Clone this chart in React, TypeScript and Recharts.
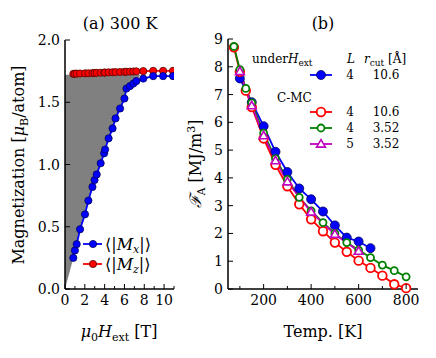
import React from 'react';
import { ComposedChart, Line, Area, XAxis, YAxis } from 'recharts';

// panel (a): magnetisation vs external field at 300 K
const fieldT = [0.84, 1.0, 1.18, 1.52, 2.02, 2.36, 2.77, 2.98, 3.2, 3.6, 3.95, 4.05, 4.4, 4.8, 5.1, 5.56, 6.0, 6.2, 6.56, 6.9, 7.2, 7.9, 8.9, 9.9, 10.9];
const magX = [0.25, 0.31, 0.36, 0.48, 0.6, 0.71, 0.82, 0.875, 0.92, 1.01, 1.09, 1.12, 1.21, 1.29, 1.37, 1.45, 1.53, 1.61, 1.63, 1.65, 1.67, 1.69, 1.71, 1.71, 1.71];
const magZ = [1.728, 1.729, 1.73, 1.731, 1.732, 1.733, 1.734, 1.735, 1.736, 1.737, 1.738, 1.739, 1.74, 1.741, 1.742, 1.743, 1.744, 1.745, 1.746, 1.747, 1.748, 1.75, 1.752, 1.752, 1.752];
const grayTop = 1.72;
const grayEndField = 7.6;

// panel (b): anisotropy energy vs temperature
const tempUnderH = [100, 150, 200, 250, 300, 350, 400, 450, 500, 550, 600, 650];
const faUnderH = [7.58, 6.72, 5.86, 4.94, 4.21, 3.62, 3.23, 2.79, 2.29, 1.85, 1.71, 1.47];
const tempCmc = [75, 100, 125, 150, 200, 250, 300, 350, 400, 450, 500, 550, 600, 650, 700, 750, 800];
const faL4r106 = [8.7, 7.82, 7.14, 6.55, 5.42, 4.47, 3.7, 3.05, 2.51, 2.08, 1.67, 1.34, 1.02, 0.76, 0.48, 0.17, 0.03];
const faL4r352 = [8.73, 7.9, 7.22, 6.7, 5.61, 4.69, 3.95, 3.3, 2.81, 2.39, 2.0, 1.67, 1.4, 1.13, 0.86, 0.66, 0.44];
const tempL5 = [100, 150, 200, 250, 300, 400, 500, 600];
const faL5r352 = [7.83, 6.6, 5.52, 4.62, 3.86, 2.77, 1.97, 1.36];

const aTicksX = [0, 1, 2, 3, 4, 5, 6, 7, 8, 9, 10, 11];
const aMajorX = [0, 2, 4, 6, 8, 10];
const aTicksY = [0, 0.5, 1, 1.5, 2];
const bTicksX = [100, 200, 300, 400, 500, 600, 700, 800];
const bMajorX = [200, 400, 600, 800];
const bTicksY = [0, 1, 2, 3, 4, 5, 6, 7, 8, 9];

const FONT = '"DejaVu Serif", "Liberation Serif", serif';
const TICK_FS = 14;
const LEG_FS = 12;
const LAB_FS = 16;

const magData = fieldT.map((h, i) => ({ h, mx: magX[i], mz: magZ[i] }));
const grayData = [
  { h: 0, g: [0, grayTop] },
  ...fieldT.filter((h) => h <= 7.2).map((h, i) => ({ h, g: [magX[i], grayTop] })),
  { h: grayEndField, g: [grayTop, grayTop] },
];
const underData = tempUnderH.map((t, i) => ({ t, v: faUnderH[i] }));
const red106Data = tempCmc.map((t, i) => ({ t, v: faL4r106[i] }));
const green352Data = tempCmc.map((t, i) => ({ t, v: faL4r352[i] }));
const mag352Data = tempL5.map((t, i) => ({ t, v: faL5r352[i] }));

type Side = 'bottom' | 'top' | 'left' | 'right';

// inward ticks like matplotlib, labels only on the major ones
const makeTick = (side: Side, major: number[] | null, fmt: (v: number) => string) => (props: any) => {
  const { x, y, payload } = props;
  const v = payload.value;
  const isMajor = major ? major.includes(v) : true;
  const len = isMajor ? 5 : 3;
  let line;
  if (side === 'bottom') line = <line x1={x} y1={y} x2={x} y2={y - len} stroke="#000" strokeWidth={1} />;
  else if (side === 'top') line = <line x1={x} y1={y} x2={x} y2={y + len} stroke="#000" strokeWidth={1} />;
  else if (side === 'left') line = <line x1={x} y1={y} x2={x + len} y2={y} stroke="#000" strokeWidth={1} />;
  else line = <line x1={x} y1={y} x2={x - len} y2={y} stroke="#000" strokeWidth={1} />;
  let label = null;
  if (isMajor && side === 'bottom')
    label = <text x={x} y={y + 5} dy="0.75em" textAnchor="middle" fontSize={TICK_FS} fontFamily={FONT} fill="#000">{fmt(v)}</text>;
  if (isMajor && side === 'left')
    label = <text x={x - 5} y={y} dy="0.36em" textAnchor="end" fontSize={TICK_FS} fontFamily={FONT} fill="#000">{fmt(v)}</text>;
  return <g>{line}{label}</g>;
};

const frame = { stroke: '#000', strokeWidth: 1.5 };

const blueDot = (r: number) => ({ r, fill: '#0000ff', stroke: '#00005a', strokeWidth: 0.8 });

const Triangle = (props: any) => {
  const { cx, cy } = props;
  if (cx == null || cy == null) return null;
  const s = 4.4;
  return (
    <polygon
      points={`${cx},${cy - s} ${cx - s},${cy + s * 0.7} ${cx + s},${cy + s * 0.7}`}
      fill="#fff"
      stroke="#bf00bf"
      strokeWidth={1.6}
    />
  );
};

function PanelA() {
  return (
    <ComposedChart width={190} height={358} margin={{ top: 40, right: 16, bottom: 24, left: 20 }}>
      <XAxis xAxisId="top" orientation="top" dataKey="h" type="number" domain={[0, 11]} ticks={aTicksX} interval={0} height={0}
        tickSize={0} tickMargin={0} axisLine={frame} tick={makeTick('top', aMajorX, String)} allowDataOverflow />
      <XAxis dataKey="h" type="number" domain={[0, 11]} ticks={aTicksX} interval={0} height={45}
        tickSize={0} tickMargin={0} axisLine={frame} tick={makeTick('bottom', aMajorX, String)} allowDataOverflow />
      <YAxis type="number" domain={[0, 2]} ticks={aTicksY} interval={0} width={45}
        tickSize={0} tickMargin={0} axisLine={frame} tick={makeTick('left', null, (v) => v.toFixed(1))} />
      <YAxis yAxisId="right" orientation="right" type="number" domain={[0, 2]} ticks={aTicksY} interval={0} width={0}
        tickSize={0} tickMargin={0} axisLine={frame} tick={makeTick('right', null, String)} />
      {/* invisible series so the mirrored frame axes get drawn */}
      <Line xAxisId="top" yAxisId="right" data={magData} dataKey="mx" stroke="none" dot={false} isAnimationActive={false} />
      <Area data={grayData} dataKey="g" type="linear" fill="#808080" fillOpacity={1} stroke="none" isAnimationActive={false} />
      <Line data={magData} dataKey="mz" type="linear" stroke="#ff0000" strokeWidth={1.8}
        dot={{ r: 3.6, fill: '#ff0000', stroke: '#5a0000', strokeWidth: 0.8 }} isAnimationActive={false} />
      <Line data={magData} dataKey="mx" type="linear" stroke="#0000ff" strokeWidth={1.8}
        dot={blueDot(3.6)} isAnimationActive={false} />
      <text x={120} y={29} textAnchor="middle" fontSize={LAB_FS} fontFamily={FONT}>(a) 300 K</text>
      <text transform="translate(24,165) rotate(-90)" textAnchor="middle" fontSize={LAB_FS} fontFamily={FONT}>
        Magnetization [<tspan fontStyle="italic">μ</tspan><tspan fontSize={11} dy={4}>B</tspan><tspan dy={-4}>/atom]</tspan>
      </text>
      <text x={119} y={337} textAnchor="middle" fontSize={LAB_FS} fontFamily={FONT}>
        <tspan fontStyle="italic">μ</tspan><tspan fontSize={11} dy={4}>0</tspan><tspan dy={-4} fontStyle="italic">H</tspan>
        <tspan fontSize={11} dy={4}>ext</tspan><tspan dy={-4}> [T]</tspan>
      </text>
      <g>
        <line x1={83} y1={244} x2={102} y2={244} stroke="#0000ff" strokeWidth={1.8} />
        <circle cx={93} cy={244} r={3.6} fill="#0000ff" stroke="#00005a" strokeWidth={0.8} />
        <text x={105} y={244} dy="0.35em" fontSize={16} fontFamily={FONT}>
          ⟨|<tspan fontStyle="italic">M</tspan><tspan fontSize={11} fontStyle="italic" dy={3}>x</tspan><tspan dy={-3}>|⟩</tspan>
        </text>
        <line x1={83} y1={264} x2={102} y2={264} stroke="#ff0000" strokeWidth={1.8} />
        <circle cx={93} cy={264} r={3.6} fill="#ff0000" stroke="#5a0000" strokeWidth={0.8} />
        <text x={105} y={264} dy="0.35em" fontSize={16} fontFamily={FONT}>
          ⟨|<tspan fontStyle="italic">M</tspan><tspan fontSize={11} fontStyle="italic" dy={3}>z</tspan><tspan dy={-3}>|⟩</tspan>
        </text>
      </g>
    </ComposedChart>
  );
}

function LegendRow({ y, color, marker, a, b }: { y: number; color: string; marker: string; a: string; b: string }) {
  let m;
  if (marker === 'filled') m = <circle cx={321} cy={y} r={4.5} fill="#0000ff" stroke="#00005a" strokeWidth={0.8} />;
  else if (marker === 'tri') m = <Triangle cx={321} cy={y} />;
  else m = <circle cx={321} cy={y} r={marker === 'big' ? 4.3 : 3.5} fill="#fff" stroke={color} strokeWidth={1.8} />;
  return (
    <g>
      <line x1={310} y1={y} x2={332} y2={y} stroke={color} strokeWidth={1.8} />
      {m}
      <text x={350} y={y} dy="0.36em" textAnchor="middle" fontSize={LEG_FS} fontFamily={FONT}>{a}</text>
      <text x={386} y={y} dy="0.36em" textAnchor="middle" fontSize={LEG_FS} fontFamily={FONT}>{b}</text>
    </g>
  );
}

const B_LEFT = 176;

function PanelB() {
  return (
    <ComposedChart width={436 - B_LEFT} height={358} margin={{ top: 39, right: 18, bottom: 24, left: 32 }}>
      <XAxis xAxisId="top" orientation="top" dataKey="t" type="number" domain={[50, 850]} ticks={bTicksX} interval={0} height={0}
        tickSize={0} tickMargin={0} axisLine={frame} tick={makeTick('top', bMajorX, String)} />
      <XAxis dataKey="t" type="number" domain={[50, 850]} ticks={bTicksX} interval={0} height={45}
        tickSize={0} tickMargin={0} axisLine={frame} tick={makeTick('bottom', bMajorX, String)} />
      <YAxis type="number" domain={[0, 9]} ticks={bTicksY} interval={0} width={20}
        tickSize={0} tickMargin={0} axisLine={frame} tick={makeTick('left', null, String)} />
      <YAxis yAxisId="right" orientation="right" type="number" domain={[0, 9]} ticks={bTicksY} interval={0} width={0}
        tickSize={0} tickMargin={0} axisLine={frame} tick={makeTick('right', null, String)} />
      <Line xAxisId="top" yAxisId="right" data={green352Data} dataKey="v" stroke="none" dot={false} isAnimationActive={false} />
      <Line data={underData} dataKey="v" type="linear" stroke="#0000ff" strokeWidth={1.8}
        dot={blueDot(4.5)} isAnimationActive={false} />
      <Line data={red106Data} dataKey="v" type="linear" stroke="#ff0000" strokeWidth={1.8}
        dot={{ r: 4.3, fill: '#fff', stroke: '#ff0000', strokeWidth: 1.8 }} isAnimationActive={false} />
      <Line data={green352Data} dataKey="v" type="linear" stroke="#008000" strokeWidth={1.8}
        dot={{ r: 3.5, fill: '#fff', stroke: '#008000', strokeWidth: 1.8 }} isAnimationActive={false} />
      <Line data={mag352Data} dataKey="v" type="linear" stroke="#bf00bf" strokeWidth={1.8}
        dot={<Triangle />} isAnimationActive={false} />
      <g transform={`translate(${-B_LEFT},0)`}>
        <text x={323} y={29} textAnchor="middle" fontSize={LAB_FS} fontFamily={FONT}>(b)</text>
        <text transform="translate(201,164) rotate(-90)" textAnchor="middle" fontSize={LAB_FS} fontFamily={FONT}>
          <tspan fontStyle="italic">ℱ</tspan><tspan fontSize={11} dy={4}>A</tspan><tspan dy={-4}> [MJ/m</tspan>
          <tspan fontSize={11} dy={-6}>3</tspan><tspan dy={6}>]</tspan>
        </text>
        <text x={323} y={337} textAnchor="middle" fontSize={LAB_FS} fontFamily={FONT}>Temp. [K]</text>
        <text x={252} y={59} dy="0.36em" fontSize={LEG_FS} fontFamily={FONT}>
          under<tspan fontStyle="italic">H</tspan><tspan fontSize={9} dy={3}>ext</tspan>
        </text>
        <text x={351} y={59} dy="0.36em" textAnchor="middle" fontSize={LEG_FS} fontFamily={FONT} fontStyle="italic">L</text>
        <text x={364} y={59} dy="0.36em" fontSize={LEG_FS} fontFamily={FONT}>
          <tspan fontStyle="italic">r</tspan><tspan fontSize={9} dy={3}>cut</tspan><tspan dy={-3}> [Å]</tspan>
        </text>
        <LegendRow y={75} color="#0000ff" marker="filled" a="4" b="10.6" />
        <text x={277} y={98} dy="0.36em" fontSize={LEG_FS} fontFamily={FONT}>C-MC</text>
        <LegendRow y={112} color="#ff0000" marker="big" a="4" b="10.6" />
        <LegendRow y={128} color="#008000" marker="small" a="4" b="3.52" />
        <LegendRow y={144} color="#bf00bf" marker="tri" a="5" b="3.52" />
      </g>
    </ComposedChart>
  );
}

export default function App() {
  return (
    <div style={{ position: 'absolute', left: 0, top: 0, width: 436, height: 358, background: '#fff' }}>
      <div style={{ position: 'absolute', left: 0, top: 0 }}>
        <PanelA />
      </div>
      <div style={{ position: 'absolute', left: B_LEFT, top: 0 }}>
        <PanelB />
      </div>
    </div>
  );
}
